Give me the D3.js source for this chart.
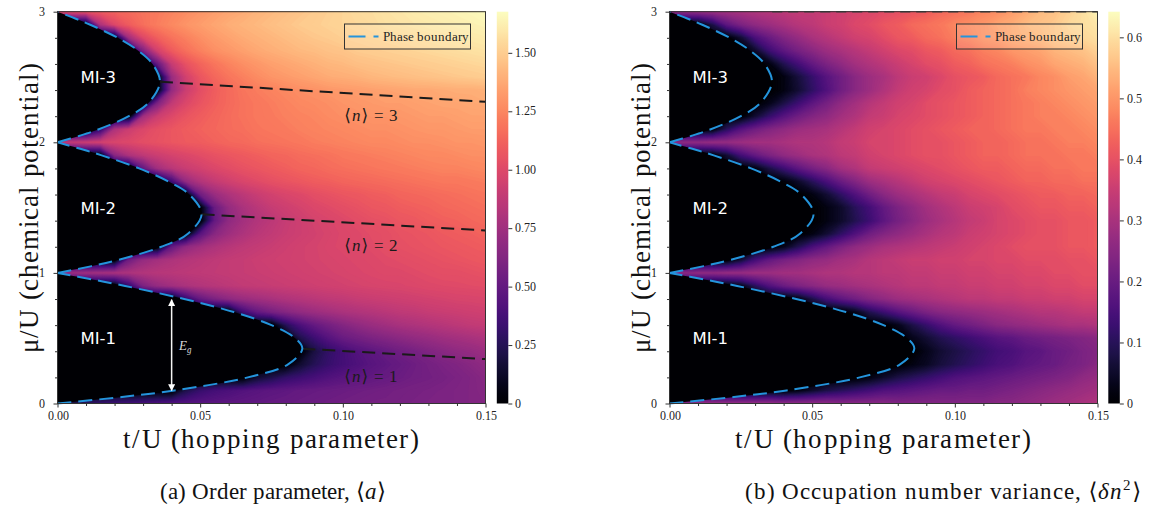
<!DOCTYPE html>
<html><head><meta charset="utf-8">
<script src="https://cdn.jsdelivr.net/npm/d3@7"></script>
<style>
@font-face{font-family:'RefSerif';font-style:normal;src:local('Liberation Serif'),local('LiberationSerif'),local('LiberationSerif-Regular'),local('DejaVu Serif'),local('DejaVuSerif');}
@font-face{font-family:'RefSerif';font-style:italic;src:local('Liberation Serif Italic'),local('LiberationSerif-Italic'),local('DejaVu Serif Italic'),local('DejaVuSerif-Italic');}
body{margin:0;background:#fff}svg{display:block}
</style>
</head><body>
<script>
// ---------------- data ----------------
const tValues = [0.000,0.005,0.010,0.015,0.020,0.025,0.030,0.035,0.040,0.045,0.050,0.055,0.060,0.065,0.070,0.075,0.080,0.085,0.090,0.095,0.100,0.105,0.110,0.115,0.120,0.125,0.130,0.135,0.140,0.145,0.150];
const muValues = [0.0,0.1,0.2,0.3,0.4,0.5,0.6,0.7,0.8,0.9,1.0,1.1,1.2,1.3,1.4,1.5,1.6,1.7,1.8,1.9,2.0,2.1,2.2,2.3,2.4,2.5,2.6,2.7,2.8,2.9,3.0];

// order parameter <a>, one row per mu value, one column per t value
const orderParamRows = [
[0.15,0.22,0.28,0.32,0.35,0.37,0.39,0.41,0.43,0.44,0.45,0.46,0.47,0.48,0.49,0.50,0.51,0.52,0.53,0.54,0.55,0.56,0.57,0.57,0.58,0.59,0.60,0.60,0.61,0.62,0.63],
[0,0,0,0,0,0,0,0,0,0.22,0.32,0.37,0.40,0.43,0.45,0.47,0.48,0.50,0.51,0.52,0.53,0.54,0.55,0.56,0.57,0.58,0.59,0.60,0.61,0.62,0.64],
[0,0,0,0,0,0,0,0,0,0,0,0,0,0,0.15,0.22,0.30,0.34,0.38,0.42,0.45,0.47,0.49,0.51,0.53,0.55,0.56,0.58,0.60,0.62,0.65],
[0,0,0,0,0,0,0,0,0,0,0,0,0,0,0,0,0,0.15,0.25,0.32,0.37,0.41,0.45,0.48,0.51,0.54,0.57,0.60,0.62,0.65,0.68],
[0,0,0,0,0,0,0,0,0,0,0,0,0,0,0,0,0,0,0.20,0.30,0.37,0.43,0.47,0.51,0.55,0.58,0.62,0.65,0.68,0.70,0.73],
[0,0,0,0,0,0,0,0,0,0,0,0,0,0,0,0,0,0.22,0.34,0.44,0.52,0.56,0.60,0.63,0.66,0.69,0.71,0.74,0.76,0.78,0.80],
[0,0,0,0,0,0,0,0,0,0,0,0,0,0,0,0,0.25,0.40,0.50,0.57,0.63,0.68,0.72,0.75,0.78,0.80,0.82,0.84,0.86,0.88,0.89],
[0,0,0,0,0,0,0,0,0,0,0,0,0,0.35,0.50,0.58,0.64,0.69,0.73,0.76,0.79,0.81,0.83,0.85,0.87,0.88,0.90,0.91,0.92,0.93,0.94],
[0,0,0,0,0,0,0,0,0,0.30,0.50,0.60,0.67,0.72,0.75,0.78,0.81,0.83,0.85,0.87,0.88,0.90,0.91,0.92,0.93,0.94,0.95,0.96,0.97,0.975,0.98],
[0,0,0,0,0,0.30,0.60,0.70,0.75,0.79,0.82,0.84,0.86,0.88,0.89,0.90,0.91,0.92,0.93,0.94,0.95,0.96,0.97,0.975,0.98,0.99,1.00,1.005,1.01,1.015,1.02],
[0.70,0.72,0.74,0.76,0.78,0.80,0.82,0.84,0.85,0.86,0.87,0.88,0.89,0.90,0.91,0.92,0.93,0.94,0.95,0.96,0.97,0.98,0.99,1.00,1.00,1.01,1.02,1.03,1.03,1.04,1.05],
[0,0,0,0,0,0.55,0.70,0.76,0.80,0.83,0.85,0.87,0.89,0.90,0.92,0.93,0.94,0.95,0.96,0.97,0.98,0.99,1.00,1.01,1.02,1.03,1.04,1.05,1.06,1.07,1.08],
[0,0,0,0,0,0,0,0,0.50,0.68,0.75,0.80,0.84,0.87,0.89,0.91,0.93,0.95,0.96,0.98,0.99,1.00,1.01,1.03,1.04,1.05,1.06,1.07,1.08,1.09,1.10],
[0,0,0,0,0,0,0,0,0,0,0.45,0.65,0.74,0.80,0.85,0.88,0.91,0.93,0.95,0.97,0.99,1.00,1.02,1.03,1.05,1.06,1.07,1.09,1.10,1.11,1.13],
[0,0,0,0,0,0,0,0,0,0,0,0.50,0.68,0.76,0.82,0.86,0.90,0.93,0.96,0.98,1.00,1.02,1.04,1.05,1.07,1.08,1.10,1.11,1.12,1.14,1.15],
[0,0,0,0,0,0,0,0,0,0,0,0.52,0.70,0.79,0.85,0.90,0.93,0.96,0.99,1.01,1.03,1.05,1.07,1.08,1.10,1.11,1.12,1.14,1.15,1.16,1.17],
[0,0,0,0,0,0,0,0,0,0,0.55,0.72,0.80,0.86,0.91,0.95,0.98,1.00,1.03,1.05,1.07,1.08,1.10,1.11,1.13,1.14,1.15,1.16,1.17,1.18,1.19],
[0,0,0,0,0,0,0,0,0.35,0.70,0.82,0.89,0.94,0.98,1.01,1.04,1.06,1.08,1.10,1.11,1.13,1.14,1.15,1.16,1.17,1.18,1.19,1.20,1.20,1.21,1.22],
[0,0,0,0,0,0,0.50,0.75,0.85,0.91,0.95,0.99,1.02,1.05,1.07,1.09,1.11,1.13,1.14,1.16,1.17,1.18,1.19,1.20,1.21,1.22,1.23,1.24,1.24,1.25,1.26],
[0,0,0,0,0.65,0.80,0.87,0.92,0.96,0.99,1.02,1.05,1.07,1.09,1.11,1.13,1.14,1.16,1.17,1.18,1.20,1.21,1.22,1.23,1.24,1.25,1.26,1.26,1.27,1.28,1.28],
[0.86,0.89,0.92,0.95,0.98,1.00,1.03,1.05,1.07,1.09,1.10,1.12,1.14,1.15,1.17,1.18,1.19,1.20,1.22,1.23,1.24,1.25,1.26,1.26,1.27,1.28,1.28,1.29,1.30,1.30,1.31],
[0,0,0,0.30,0.80,0.92,0.99,1.04,1.07,1.10,1.12,1.14,1.16,1.17,1.19,1.20,1.21,1.23,1.24,1.25,1.26,1.27,1.28,1.28,1.29,1.30,1.31,1.31,1.32,1.33,1.33],
[0,0,0,0,0,0,0.75,0.92,1.00,1.06,1.10,1.13,1.16,1.18,1.20,1.21,1.23,1.24,1.25,1.27,1.28,1.29,1.30,1.30,1.31,1.32,1.33,1.33,1.34,1.35,1.35],
[0,0,0,0,0,0,0,0.60,0.88,0.99,1.06,1.11,1.15,1.18,1.20,1.22,1.24,1.26,1.27,1.28,1.30,1.31,1.32,1.33,1.33,1.34,1.35,1.36,1.36,1.37,1.38],
[0,0,0,0,0,0,0,0,0.70,0.92,1.03,1.10,1.15,1.19,1.22,1.24,1.26,1.28,1.29,1.31,1.32,1.33,1.34,1.35,1.36,1.37,1.37,1.38,1.39,1.39,1.40],
[0,0,0,0,0,0,0,0,0.72,0.95,1.07,1.14,1.19,1.23,1.27,1.30,1.32,1.34,1.36,1.38,1.39,1.40,1.42,1.43,1.44,1.45,1.46,1.47,1.48,1.49,1.50],
[0,0,0,0,0,0,0,0.50,0.90,1.05,1.13,1.19,1.24,1.28,1.31,1.34,1.36,1.38,1.40,1.42,1.43,1.45,1.46,1.47,1.48,1.49,1.50,1.51,1.52,1.53,1.54],
[0,0,0,0,0,0,0.60,0.95,1.09,1.17,1.23,1.28,1.31,1.34,1.37,1.39,1.41,1.43,1.44,1.46,1.47,1.49,1.50,1.51,1.52,1.53,1.54,1.55,1.56,1.57,1.58],
[0,0,0,0,0,0.75,1.00,1.11,1.18,1.23,1.28,1.32,1.35,1.38,1.40,1.42,1.44,1.46,1.48,1.49,1.51,1.52,1.53,1.54,1.55,1.56,1.57,1.58,1.59,1.60,1.61],
[0,0,0,0.80,1.00,1.10,1.17,1.22,1.26,1.30,1.33,1.36,1.39,1.41,1.43,1.45,1.47,1.49,1.50,1.52,1.53,1.54,1.55,1.57,1.58,1.59,1.60,1.61,1.62,1.63,1.64],
[1.00,1.03,1.06,1.09,1.12,1.15,1.18,1.21,1.24,1.27,1.30,1.33,1.36,1.38,1.41,1.43,1.45,1.47,1.49,1.51,1.53,1.55,1.56,1.58,1.59,1.61,1.62,1.63,1.64,1.65,1.67]
];

// occupation number variance <dn^2>, same grid
const varianceRows = [
[0.20,0.25,0.27,0.27,0.27,0.27,0.27,0.27,0.26,0.26,0.26,0.26,0.25,0.25,0.25,0.25,0.24,0.24,0.24,0.24,0.24,0.24,0.24,0.25,0.25,0.26,0.27,0.28,0.29,0.30,0.31],
[0,0,0,0,0,0,0,0,0,0.02,0.05,0.08,0.10,0.12,0.14,0.16,0.17,0.18,0.19,0.20,0.20,0.21,0.21,0.22,0.23,0.24,0.25,0.26,0.27,0.28,0.29],
[0,0,0,0,0,0,0,0,0,0,0,0,0,0,0.02,0.05,0.08,0.10,0.12,0.14,0.16,0.17,0.18,0.19,0.20,0.21,0.22,0.23,0.24,0.26,0.27],
[0,0,0,0,0,0,0,0,0,0,0,0,0,0,0,0,0,0.02,0.04,0.07,0.09,0.11,0.13,0.15,0.16,0.18,0.19,0.20,0.22,0.23,0.25],
[0,0,0,0,0,0,0,0,0,0,0,0,0,0,0,0,0,0,0.03,0.06,0.08,0.10,0.12,0.14,0.15,0.17,0.18,0.20,0.21,0.23,0.24],
[0,0,0,0,0,0,0,0,0,0,0,0,0,0,0,0,0,0.03,0.06,0.09,0.11,0.13,0.15,0.17,0.18,0.20,0.21,0.22,0.23,0.24,0.25],
[0,0,0,0,0,0,0,0,0,0,0,0,0,0,0,0,0.03,0.08,0.12,0.16,0.19,0.21,0.23,0.25,0.26,0.27,0.28,0.29,0.30,0.30,0.31],
[0,0,0,0,0,0,0,0,0,0,0,0,0,0.03,0.09,0.13,0.17,0.20,0.23,0.25,0.26,0.27,0.28,0.29,0.30,0.31,0.32,0.32,0.33,0.34,0.34],
[0,0,0,0,0,0,0,0,0,0.02,0.08,0.14,0.18,0.21,0.24,0.26,0.28,0.29,0.30,0.31,0.32,0.33,0.33,0.34,0.34,0.35,0.35,0.36,0.36,0.37,0.37],
[0,0,0,0,0,0.03,0.10,0.16,0.20,0.23,0.25,0.27,0.28,0.29,0.30,0.31,0.32,0.33,0.33,0.34,0.34,0.35,0.35,0.36,0.36,0.37,0.37,0.38,0.38,0.39,0.39],
[0.25,0.25,0.26,0.26,0.27,0.27,0.28,0.28,0.29,0.29,0.30,0.31,0.31,0.32,0.32,0.33,0.33,0.34,0.34,0.35,0.35,0.36,0.36,0.37,0.37,0.38,0.38,0.39,0.39,0.40,0.40],
[0,0,0,0,0,0.06,0.14,0.19,0.22,0.24,0.26,0.27,0.29,0.30,0.32,0.33,0.34,0.35,0.35,0.36,0.36,0.37,0.37,0.38,0.38,0.39,0.39,0.39,0.40,0.40,0.41],
[0,0,0,0,0,0,0,0,0.03,0.09,0.15,0.19,0.23,0.26,0.28,0.30,0.31,0.32,0.33,0.34,0.35,0.36,0.37,0.38,0.39,0.40,0.40,0.40,0.41,0.41,0.42],
[0,0,0,0,0,0,0,0,0,0,0.02,0.06,0.11,0.16,0.21,0.24,0.26,0.28,0.30,0.32,0.33,0.35,0.36,0.37,0.38,0.39,0.40,0.40,0.41,0.41,0.42],
[0,0,0,0,0,0,0,0,0,0,0,0.02,0.05,0.09,0.13,0.18,0.22,0.25,0.28,0.30,0.32,0.34,0.35,0.37,0.38,0.39,0.40,0.40,0.41,0.41,0.42],
[0,0,0,0,0,0,0,0,0,0,0,0.02,0.05,0.10,0.14,0.19,0.23,0.26,0.29,0.31,0.33,0.35,0.36,0.37,0.39,0.40,0.41,0.41,0.42,0.42,0.43],
[0,0,0,0,0,0,0,0,0,0,0.02,0.06,0.11,0.16,0.21,0.25,0.28,0.30,0.32,0.34,0.35,0.37,0.38,0.39,0.40,0.41,0.42,0.42,0.43,0.43,0.44],
[0,0,0,0,0,0,0,0,0.01,0.05,0.10,0.15,0.20,0.24,0.28,0.30,0.32,0.34,0.36,0.37,0.38,0.39,0.40,0.41,0.42,0.43,0.43,0.44,0.44,0.45,0.45],
[0,0,0,0,0,0,0.02,0.08,0.13,0.18,0.22,0.25,0.29,0.31,0.34,0.35,0.36,0.37,0.38,0.39,0.40,0.41,0.42,0.42,0.43,0.44,0.44,0.45,0.45,0.46,0.46],
[0,0,0,0,0.06,0.14,0.19,0.23,0.26,0.28,0.30,0.31,0.33,0.34,0.36,0.37,0.38,0.39,0.40,0.40,0.41,0.42,0.43,0.43,0.44,0.45,0.45,0.45,0.46,0.46,0.47],
[0.25,0.26,0.26,0.27,0.27,0.28,0.29,0.29,0.30,0.31,0.31,0.32,0.34,0.35,0.37,0.37,0.38,0.39,0.40,0.40,0.41,0.42,0.43,0.43,0.44,0.45,0.45,0.46,0.47,0.47,0.48],
[0,0,0,0.01,0.10,0.17,0.21,0.24,0.26,0.28,0.29,0.30,0.32,0.34,0.36,0.37,0.38,0.39,0.40,0.41,0.42,0.43,0.43,0.44,0.45,0.46,0.46,0.47,0.47,0.48,0.49],
[0,0,0,0,0,0,0.06,0.12,0.17,0.21,0.24,0.26,0.29,0.31,0.34,0.35,0.37,0.38,0.39,0.40,0.41,0.42,0.43,0.44,0.45,0.46,0.47,0.47,0.48,0.49,0.50],
[0,0,0,0,0,0,0,0.03,0.08,0.13,0.18,0.22,0.26,0.29,0.32,0.34,0.36,0.37,0.39,0.40,0.41,0.42,0.43,0.44,0.45,0.46,0.47,0.48,0.49,0.50,0.51],
[0,0,0,0,0,0,0,0,0.02,0.06,0.11,0.16,0.21,0.25,0.28,0.31,0.34,0.36,0.37,0.39,0.40,0.42,0.43,0.44,0.45,0.47,0.48,0.49,0.50,0.51,0.52],
[0,0,0,0,0,0,0,0,0.02,0.07,0.12,0.17,0.21,0.25,0.28,0.30,0.33,0.35,0.36,0.38,0.40,0.41,0.42,0.44,0.45,0.46,0.48,0.49,0.51,0.52,0.54],
[0,0,0,0,0,0,0,0.02,0.09,0.14,0.19,0.23,0.26,0.29,0.31,0.33,0.35,0.37,0.39,0.40,0.42,0.43,0.45,0.46,0.47,0.49,0.50,0.52,0.53,0.54,0.56],
[0,0,0,0,0,0,0.05,0.13,0.18,0.22,0.25,0.28,0.30,0.32,0.34,0.36,0.38,0.39,0.41,0.42,0.44,0.45,0.47,0.48,0.50,0.51,0.52,0.54,0.55,0.56,0.58],
[0,0,0,0,0,0.06,0.15,0.20,0.24,0.27,0.30,0.32,0.34,0.36,0.37,0.39,0.41,0.42,0.44,0.45,0.47,0.48,0.50,0.51,0.53,0.54,0.55,0.57,0.58,0.59,0.60],
[0,0,0,0.08,0.18,0.23,0.26,0.28,0.30,0.32,0.33,0.35,0.36,0.38,0.39,0.41,0.42,0.44,0.45,0.46,0.48,0.49,0.50,0.52,0.53,0.55,0.56,0.57,0.59,0.60,0.61],
[0.25,0.26,0.27,0.28,0.29,0.30,0.31,0.32,0.33,0.34,0.34,0.35,0.36,0.37,0.38,0.39,0.40,0.41,0.42,0.44,0.45,0.46,0.48,0.49,0.51,0.53,0.55,0.56,0.58,0.60,0.63]
];

// Mott-lobe phase boundaries (t/U where the lobe ends, read at several mu/U)
const lobe1Mu = [0, 0.05, 0.1, 0.2, 0.3, 0.42, 0.5, 0.6, 0.7, 0.8, 0.9, 0.95, 1.0];
const lobe1T  = [0, 0.0226, 0.041, 0.0667, 0.0808, 0.0858, 0.0833, 0.075, 0.0618, 0.0444, 0.0237, 0.0122, 0];
const lobe2Mu = [1.0, 1.05, 1.1, 1.2, 1.3, 1.45, 1.6, 1.7, 1.8, 1.9, 1.95, 2.0];
const lobe2T  = [0, 0.0116, 0.0214, 0.0364, 0.0457, 0.0505, 0.0462, 0.0389, 0.0286, 0.0155, 0.008, 0];
const lobe3Mu = [2.0, 2.05, 2.1, 2.2, 2.3, 2.46, 2.6, 2.7, 2.8, 2.9, 2.95, 3.0];
const lobe3T  = [0, 0.0078, 0.0145, 0.025, 0.0318, 0.0359, 0.0333, 0.0284, 0.0211, 0.0115, 0.006, 0];

// constant-density lines <n> = 1,2,3 from the lobe tips to the right edge
const densityN   = [1, 2, 3];
const densityT   = [[0.0858, 0.15], [0.0505, 0.15], [0.0359, 0.15]];
const densityMu  = [[0.42, 0.34], [1.449, 1.325], [2.464, 2.31]];
const densityLabelT  = [0.1005, 0.1005, 0.1005];
const densityLabelMu = [0.165, 1.165, 2.165];

const lobeLabels   = ['MI-1', 'MI-2', 'MI-3'];
const lobeLabelMu  = [0.5, 1.5, 2.5];

const xTicks = [0, 0.05, 0.10, 0.15];
const xMinorTicks = [0.01,0.02,0.03,0.04,0.06,0.07,0.08,0.09,0.11,0.12,0.13,0.14];
const yTicks = [0, 1, 2, 3];
const yMinorTicks = [0.2,0.4,0.6,0.8,1.2,1.4,1.6,1.8,2.2,2.4,2.6,2.8];
const orderTicks = [0, 0.25, 0.50, 0.75, 1.00, 1.25, 1.50];
const varianceTicks = [0, 0.1, 0.2, 0.3, 0.4, 0.5, 0.6];
const orderMax = 1.676, varianceMax = 0.642;

// ---------------- drawing ----------------
const W = 1149, H = 514;
const SERIF = "RefSerif, 'Liberation Serif', 'DejaVu Serif', 'Times New Roman', serif";
const BLUE = '#2494dc';
const svg = d3.select('body').append('svg').attr('width', W).attr('height', H)
  .style('font-family', SERIF);
const defs = svg.append('defs');

function drawPanel(o) {
  const x = d3.scaleLinear().domain([0, 0.15]).range([o.x0, o.x1]);
  const y = d3.scaleLinear().domain([0, 3]).range([o.y1, o.y0]);
  const color = d3.scaleSequential(d3.interpolateMagma).domain([0, o.vmax]);
  const g = svg.append('g');

  defs.append('clipPath').attr('id', 'clip' + o.id).append('rect')
    .attr('x', o.x0).attr('y', o.y0).attr('width', o.x1 - o.x0).attr('height', o.y1 - o.y0);
  const plot = g.append('g').attr('clip-path', `url(#clip${o.id})`);
  plot.append('rect').attr('x', o.x0).attr('y', o.y0).attr('width', o.x1 - o.x0)
    .attr('height', o.y1 - o.y0).attr('fill', color(0));

  // heat field via d3.contours on the grid
  const n = tValues.length, m = muValues.length;
  const flat = o.rows.flat();
  const N = 160, step = o.vmax / N;
  const thresholds = d3.range(1, N + 1).map(i => i * step);
  const cs = d3.contours().size([n, m]).thresholds(thresholds)(flat);
  const gx = d3.scaleLinear().domain([0.5, n - 0.5]).range([x(tValues[0]), x(tValues[n - 1])]);
  const gy = d3.scaleLinear().domain([0.5, m - 0.5]).range([y(muValues[0]), y(muValues[m - 1])]);
  const gpath = d3.geoPath(d3.geoTransform({ point(px, py) { this.stream.point(gx(px), gy(py)); } }));
  plot.append('g').selectAll('path').data(cs).join('path')
    .attr('d', gpath).attr('fill', d => color(Math.min(o.vmax, d.value + step / 2)));

  // Mott lobes
  const line = d3.line().x(d => x(d[0])).y(d => y(d[1])).curve(d3.curveCatmullRom);
  const lobes = [[lobe1T, lobe1Mu], [lobe2T, lobe2Mu], [lobe3T, lobe3Mu]];
  const lobePts = lobes.map(([ts, mus]) => ts.map((t, i) => [t, mus[i]]));
  lobePts.forEach(p => plot.append('path').attr('d', line(p) + 'Z').attr('fill', color(0)));

  // density lines (panel a)
  if (o.density) {
    densityN.forEach((nv, i) => {
      const pts = densityT[i].map((t, k) => [t, densityMu[i][k]]);
      plot.append('path').attr('d', d3.line().x(d => x(d[0])).y(d => y(d[1]))(pts))
        .attr('fill', 'none').attr('stroke', '#1a1a1a').attr('stroke-width', 2)
        .attr('stroke-dasharray', '13,7');
      const tx = g.append('text').attr('x', x(densityLabelT[i])).attr('y', y(densityLabelMu[i]))
        .attr('font-size', 17).attr('letter-spacing', 0.8).attr('fill', '#1a1a1a');
      tx.append('tspan').text('\u27E8');
      tx.append('tspan').attr('font-style', 'italic').text('n');
      tx.append('tspan').text('\u27E9 = ' + nv);
    });
  }
  if (o.topLine) {
    g.append('path').attr('d', d3.line().x(d => x(d[0])).y(d => y(d[1]))([[0.036, 3], [0.15, 3]]))
      .attr('stroke', '#444').attr('stroke-width', 1.6).attr('stroke-dasharray', '10,6').attr('fill', 'none');
  }

  // phase boundary
  lobePts.forEach(p => g.append('path').attr('d', line(p)).attr('fill', 'none')
    .attr('stroke', BLUE).attr('stroke-width', 2).attr('stroke-dasharray', '14,7'));

  // lobe labels
  lobeLabels.forEach((s, i) => g.append('text').attr('x', o.x0 + 23).attr('y', y(lobeLabelMu[i]) + 6)
    .attr('font-family', "'DejaVu Sans', sans-serif").attr('font-size', 16.5).attr('fill', '#fff').text(s));

  // gap arrow (panel a)
  if (o.gap) {
    const mk = defs.append('marker').attr('id', 'arr').attr('viewBox', '0 0 10 10').attr('refX', 9).attr('refY', 5)
      .attr('markerWidth', 7).attr('markerHeight', 7).attr('orient', 'auto-start-reverse').attr('markerUnits', 'userSpaceOnUse');
    mk.append('path').attr('d', 'M0,0 L10,5 L0,10 z').attr('fill', '#fff');
    g.append('line').attr('x1', x(0.04)).attr('x2', x(0.04)).attr('y1', y(0.1)).attr('y2', y(0.795))
      .attr('stroke', '#f4f4f4').attr('stroke-width', 1.5)
      .attr('marker-start', 'url(#arr)').attr('marker-end', 'url(#arr)');
    const et = g.append('text').attr('x', x(0.04) + 7).attr('y', y(0.45) + 5).attr('font-size', 13)
      .attr('fill', '#dcdcdc').attr('font-style', 'italic');
    et.append('tspan').text('E');
    et.append('tspan').attr('font-size', 9).attr('dy', 3).text('g');
  }

  // frame
  g.append('rect').attr('x', o.x0).attr('y', o.y0).attr('width', o.x1 - o.x0).attr('height', o.y1 - o.y0)
    .attr('fill', 'none').attr('stroke', '#333').attr('stroke-width', 1);

  // axes
  const styleAxis = s => {
    s.select('.domain').remove();
    s.selectAll('line').attr('stroke', '#333');
    s.selectAll('text').attr('font-family', SERIF).attr('font-size', 11.5).attr('fill', '#222');
  };
  g.append('g').attr('transform', `translate(0,${o.y1})`)
    .call(d3.axisBottom(x).tickValues(xTicks).tickFormat(d3.format('.2f')).tickSize(4).tickPadding(4)).call(styleAxis);
  g.append('g').attr('transform', `translate(0,${o.y1})`)
    .call(d3.axisBottom(x).tickValues(xMinorTicks).tickFormat('').tickSize(2.5)).call(styleAxis);
  g.append('g').attr('transform', `translate(${o.x0},0)`)
    .call(d3.axisLeft(y).tickValues(yTicks).tickFormat(d3.format('d')).tickSize(4).tickPadding(8.5)).call(styleAxis);
  g.append('g').attr('transform', `translate(${o.x0},0)`)
    .call(d3.axisLeft(y).tickValues(yMinorTicks).tickFormat('').tickSize(2.5)).call(styleAxis);

  // axis titles
  g.append('text').attr('x', (o.x0 + o.x1) / 2).attr('y', 448).attr('text-anchor', 'middle')
    .attr('font-size', 27).attr('letter-spacing', 1.2).attr('fill', '#111').text('t/U (hopping parameter)');
  g.append('text').attr('transform', `translate(${o.x0 - 20},${(o.y0 + o.y1) / 2}) rotate(-90)`)
    .attr('text-anchor', 'middle').attr('font-size', 27).attr('letter-spacing', 0.8).attr('fill', '#111')
    .text('\u03BC/U (chemical potential)');

  // legend
  const lg = g.append('g');
  lg.append('rect').attr('x', o.x1 - 141).attr('y', 24).attr('width', 126).attr('height', 25)
    .attr('fill', 'rgba(255,255,255,0.12)').attr('stroke', '#333').attr('stroke-width', 1);
  lg.append('line').attr('x1', o.x1 - 137).attr('x2', o.x1 - 107).attr('y1', 36.5).attr('y2', 36.5)
    .attr('stroke', BLUE).attr('stroke-width', 2).attr('stroke-dasharray', '17,8');
  lg.append('text').attr('x', o.x1 - 102.5).attr('y', 40.5).attr('font-size', 13).attr('fill', '#222')
    .text('Phase boundary');

  // colorbar
  const gid = 'grad' + o.id;
  const grad = defs.append('linearGradient').attr('id', gid).attr('x1', 0).attr('y1', 1).attr('x2', 0).attr('y2', 0);
  d3.range(0, 41).forEach(i => grad.append('stop').attr('offset', i / 40).attr('stop-color', d3.interpolateMagma(i / 40)));
  g.append('rect').attr('x', o.cbx).attr('y', o.y0).attr('width', 11.5).attr('height', o.y1 - o.y0)
    .attr('fill', `url(#${gid})`);
  const yc = d3.scaleLinear().domain([0, o.vmax]).range([o.y1, o.y0]);
  g.append('g').attr('transform', `translate(${o.cbx + 11.5},0)`)
    .call(d3.axisRight(yc).tickValues(o.cbTicks).tickFormat(o.cbFormat).tickSize(4).tickPadding(3)).call(styleAxis);

  // caption
  const cap = svg.append('text').attr('x', o.capX).attr('y', 499).attr('text-anchor', o.capAnchor)
    .attr('font-family', SERIF).attr('font-size', 23).attr('letter-spacing', o.capSpacing).attr('fill', '#111');
  o.caption(cap);
}

drawPanel({
  id: 'a', x0: 57.5, x1: 485.5, y0: 11.7, y1: 403.5, vmax: orderMax, rows: orderParamRows,
  cbx: 496.8, cbTicks: orderTicks, cbFormat: d => d === 0 ? '0' : d3.format('.2f')(d),
  density: true, gap: true, topLine: false, capX: 273, capAnchor: 'middle', capSpacing: 0,
  caption: t => { t.append('tspan').text('(a) Order parameter, \u27E8');
                  t.append('tspan').attr('font-style', 'italic').text('a');
                  t.append('tspan').text('\u27E9'); }
});
drawPanel({
  id: 'b', x0: 669.5, x1: 1097.5, y0: 11.7, y1: 403.5, vmax: varianceMax, rows: varianceRows,
  cbx: 1108.3, cbTicks: varianceTicks, cbFormat: d => d === 0 ? '0' : d3.format('.1f')(d),
  density: false, gap: false, topLine: true, capX: 1142, capAnchor: 'end', capSpacing: 0.9,
  caption: t => { t.append('tspan').text('(b) Occupation number variance, \u27E8');
                  t.append('tspan').attr('font-style', 'italic').text('\u03B4n');
                  t.append('tspan').attr('font-size', 15).attr('dy', -9).text('2');
                  t.append('tspan').attr('dy', 9).text('\u27E9'); }
});
</script>
</body></html>
